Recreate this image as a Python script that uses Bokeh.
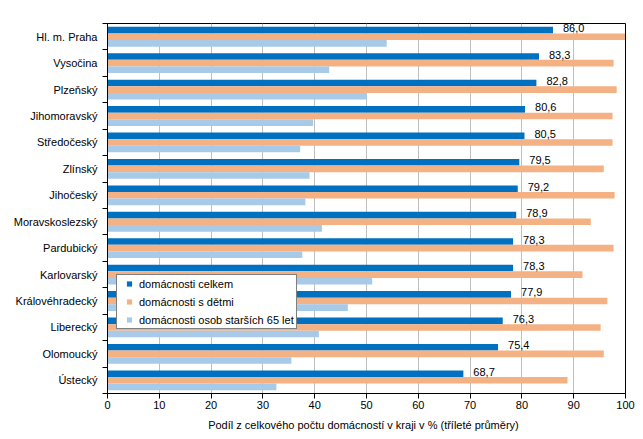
from bokeh.plotting import figure
from bokeh.models import (Range1d, FixedTicker, ColumnDataSource, Legend, LegendItem)
from bokeh.core.properties import value
from bokeh.embed import file_html
from bokeh.resources import INLINE

regions = ["Hl. m. Praha", "Vysočina", "Plzeňský", "Jihomoravský", "Středočeský",
           "Zlínský", "Jihočeský", "Moravskoslezský", "Pardubický", "Karlovarský",
           "Královéhradecký", "Liberecký", "Olomoucký", "Ústecký"]
celkem = [86.0, 83.3, 82.8, 80.6, 80.5, 79.5, 79.2, 78.9, 78.3, 78.3, 77.9, 76.3, 75.4, 68.7]
deti = [99.9, 97.7, 98.3, 97.5, 97.5, 95.8, 97.9, 93.3, 97.7, 91.7, 96.5, 95.2, 95.8, 88.8]
seniori = [53.9, 42.8, 50.1, 39.7, 37.2, 39.0, 38.2, 41.4, 37.6, 51.1, 46.4, 40.8, 35.5, 32.6]
series_names = ["domácnosti celkem", "domácnosti s dětmi", "domácnosti osob starších 65 let"]
x_ticks = [0, 10, 20, 30, 40, 50, 60, 70, 80, 90, 100]
x_title = "Podíl  z celkového počtu domácností v kraji v % (tříleté  průměry)"

colors = ["#0070C0", "#F4B183", "#A6CAE8"]
FONT = "Liberation Sans"
n = len(regions)
centers = [n - 1 - i + 0.5 for i in range(n)]
bar_h = 0.25

src = ColumnDataSource(dict(
    yc=centers,
    y_top=[c + bar_h for c in centers],
    y_bot=[c - bar_h for c in centers],
    celkem=celkem, deti=deti, seniori=seniori,
    lab=[f"{v:.1f}".replace(".", ",") for v in celkem],
))

p = figure(width=643, height=439, output_backend="svg", toolbar_location=None,
           x_range=Range1d(0, 100), y_range=Range1d(0, n),
           min_border_left=107, min_border_right=18, min_border_top=23, min_border_bottom=46)
p.background_fill_color = "white"
p.border_fill_color = "white"
p.outline_line_color = "black"
p.outline_line_width = 1

r1 = p.hbar(y="y_top", right="celkem", left=0, height=bar_h, source=src,
            fill_color=colors[0], line_color=None)
r2 = p.hbar(y="yc", right="deti", left=0, height=bar_h, source=src,
            fill_color=colors[1], line_color=None)
r3 = p.hbar(y="y_bot", right="seniori", left=0, height=bar_h, source=src,
            fill_color=colors[2], line_color=None)

p.text(x="celkem", y="y_top", text="lab", source=src, x_offset=10, y_offset=-2,
       text_baseline="middle", text_align="left", text_color="black",
       text_font=value(FONT), text_font_size="11px")

# legend markers (size 0 in the plot; the legend draws its own square)
m = [p.scatter(x=col, y="yc", source=src, marker="square", size=0,
               fill_color=c, line_color=None)
     for col, c in zip(["celkem", "deti", "seniori"], colors)]

legend = Legend(items=[LegendItem(label=series_names[i], renderers=[m[i]]) for i in range(3)],
                location=(9, 64), orientation="vertical",
                label_text_font=FONT, label_text_font_size="11px", label_text_color="black",
                glyph_width=20, glyph_height=13, label_height=13, label_standoff=0,
                spacing=5, padding=2, margin=0,
                border_line_color="black", border_line_width=1,
                background_fill_color="white", background_fill_alpha=1.0)
p.add_layout(legend, "center")

# x axis
p.xaxis.ticker = FixedTicker(ticks=x_ticks)
p.xaxis.major_tick_out = 5
p.xaxis.major_tick_in = 0
p.xaxis.minor_tick_out = 0
p.xaxis.minor_tick_in = 0
p.xaxis.major_label_standoff = 2
p.xaxis.axis_line_color = "black"
p.xaxis.major_tick_line_color = "black"
p.xaxis.major_label_text_font = FONT
p.xaxis.major_label_text_font_size = "11px"
p.xaxis.major_label_text_color = "black"
p.xaxis.axis_label = x_title
p.xaxis.axis_label_text_font = FONT
p.xaxis.axis_label_text_font_size = "11px"
p.xaxis.axis_label_text_font_style = "normal"
p.xaxis.axis_label_text_color = "black"
p.xaxis.axis_label_standoff = 7

# y axis
p.yaxis.ticker = FixedTicker(ticks=centers, minor_ticks=list(range(n + 1)))
p.yaxis.major_label_overrides = {c: regions[i] for i, c in enumerate(centers)}
p.yaxis.major_tick_out = 0
p.yaxis.major_tick_in = 0
p.yaxis.minor_tick_out = 5
p.yaxis.minor_tick_in = 0
p.yaxis.minor_tick_line_color = "black"
p.yaxis.axis_line_color = "black"
p.yaxis.major_label_standoff = 5
p.yaxis.major_label_text_font = FONT
p.yaxis.major_label_text_font_size = "11px"
p.yaxis.major_label_text_color = "black"

p.xgrid.ticker = FixedTicker(ticks=x_ticks)
p.xgrid.grid_line_color = "#BFBFBF"
p.xgrid.grid_line_width = 1
p.ygrid.grid_line_color = None

open("out.html", "w").write(file_html(p, INLINE))
